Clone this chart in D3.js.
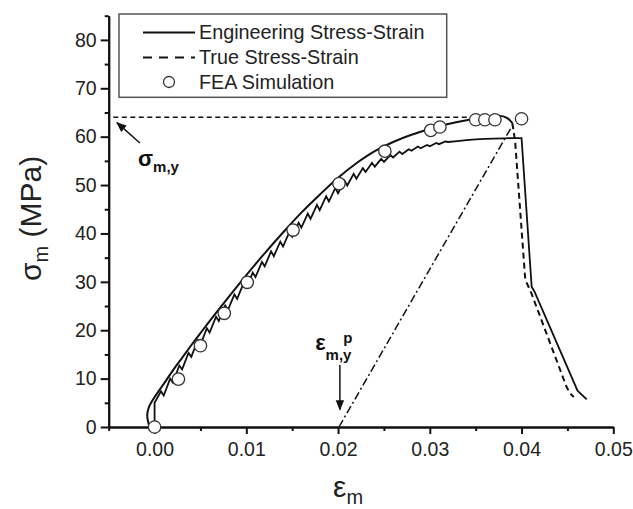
<!DOCTYPE html>
<html><head><meta charset="utf-8">
<script src="https://cdn.jsdelivr.net/npm/d3@7"></script>
<style>body{margin:0;background:#fff;} svg{display:block;font-family:"Liberation Sans",Arial,sans-serif;}</style>
</head><body><svg id="c" width="633" height="509"></svg>
<script>
// ---- data ----
const xTicks = [0.00, 0.01, 0.02, 0.03, 0.04, 0.05];
const xMinorTicks = [-0.005, 0.005, 0.015, 0.025, 0.035, 0.045];
const yTicks = [0, 10, 20, 30, 40, 50, 60, 70, 80];
const yMinorTicks = [5, 15, 25, 35, 45, 55, 65, 75, 85];

// True stress-strain: rising part (drawn solid) and post-peak drop (dashed)
const trueRise = [[-0.0006,0.3],[-0.0008,2.5],[-0.0006,4.2],[-0.0002,5.6],[0.0003,7.0],[0.001,8.9],[0.002,11.7],[0.003,14.3],[0.004,16.9],[0.005,19.4],[0.006,21.9],[0.008,26.7],[0.010,31.4],[0.012,35.9],[0.014,40.2],[0.016,44.3],[0.018,48.0],[0.020,51.5],[0.022,54.5],[0.024,57.0],[0.026,58.9],[0.028,60.4],[0.030,61.6],[0.032,62.6],[0.034,63.4],[0.036,64.0],[0.0375,64.3],[0.0384,63.9],[0.0390,62.8]];
const trueDrop = [[0.0390,62.8],[0.0393,59.0],[0.0404,30.5],[0.0411,27.5],[0.0449,8.3],[0.0453,6.9],[0.0457,6.2]];

// Engineering stress-strain (stepped)
const engCurve = [[0,0],[0,5.0],[0.0007,7.4],[0.001,6.5],[0.0017,10.0],[0.002,9.2],[0.0027,12.7],[0.003,11.9],[0.0037,15.3],[0.004,14.5],[0.0047,17.9],[0.005,17.0],[0.0057,20.4],[0.006,19.5],[0.0067,22.8],[0.007,21.9],[0.0077,25.1],[0.008,24.2],[0.0087,27.4],[0.009,26.5],[0.0097,29.7],[0.010,28.8],[0.0107,31.9],[0.011,31.0],[0.0117,34.1],[0.012,33.2],[0.0127,36.3],[0.013,35.3],[0.0137,38.3],[0.014,37.3],[0.0147,40.3],[0.015,39.3],[0.0157,42.2],[0.016,41.2],[0.0167,44.1],[0.017,43.0],[0.0177,45.9],[0.018,44.8],[0.0187,47.7],[0.019,46.6],[0.0197,49.4],[0.020,48.3],[0.0207,50.9],[0.021,49.9],[0.0217,52.3],[0.022,51.3],[0.0227,53.5],[0.023,52.7],[0.0237,54.6],[0.024,53.8],[0.0247,55.4],[0.025,54.8],[0.0257,56.2],[0.026,55.7],[0.0267,56.9],[0.027,56.4],[0.0277,57.4],[0.028,57.1],[0.0287,57.95],[0.029,57.6],[0.0297,58.3],[0.030,58.0],[0.0307,58.7],[0.031,58.45],[0.0317,59.0],[0.032,58.9],[0.033,59.1],[0.034,59.3],[0.035,59.45],[0.036,59.55],[0.037,59.6],[0.038,59.65],[0.039,59.7],[0.0400,59.7],[0.0411,29.0],[0.0414,28.0],[0.0461,7.5],[0.0471,5.7]];

// FEA simulation points
const feaPoints = [[0,0],[0.0026,9.9],[0.0050,16.8],[0.0076,23.5],[0.0101,29.9],[0.0151,40.7],[0.0201,50.3],[0.0251,57.0],[0.0301,61.3],[0.0311,62.0],[0.0350,63.5],[0.0360,63.5],[0.0371,63.5],[0.0400,63.7]];

// offset line and yield stress line
const offsetLine = [[0.0201,0],[0.0390,62.3]];
const yieldLine = [[-0.0045,64],[0.0344,64]];

// annotations (data units)
const sigmaArrow = [[-0.0016,58.7],[-0.0041,62.9]];
const sigmaLabelPos = [-0.0018,53.9];
const epsArrow = [[0.0202,12.8],[0.0202,3.6]];
const epsLabelPos = [0.0175,15.9];

const legendLabels = ["Engineering Stress-Strain","True Stress-Strain","FEA Simulation"];

// ---- drawing ----
const svg = d3.select("#c");
const x = d3.scaleLinear().domain([-0.005, 0.05]).range([108.7, 613.3]);
const y = d3.scaleLinear().domain([0, 85]).range([427, 15.7]);

const defs = svg.append("defs");
defs.append("marker").attr("id","ah").attr("viewBox","0 0 10 10").attr("refX",9).attr("refY",5)
  .attr("markerWidth",7).attr("markerHeight",7).attr("orient","auto-start-reverse")
  .append("path").attr("d","M0,1 L10,5 L0,9 z").attr("fill","#111");

const line = d3.line().x(d=>x(d[0])).y(d=>y(d[1]));
const smooth = d3.line().x(d=>x(d[0])).y(d=>y(d[1])).curve(d3.curveCatmullRom.alpha(0.5));

// axes
svg.append("g").attr("transform",`translate(${x(-0.005)},0)`)
  .call(d3.axisLeft(y).tickValues(yTicks).tickSize(8).tickSizeOuter(0).tickPadding(4).tickFormat(d3.format("d")));
svg.append("g").attr("transform",`translate(${x(-0.005)},0)`)
  .call(d3.axisLeft(y).tickValues(yMinorTicks).tickSize(4).tickSizeOuter(0).tickFormat(""));
svg.append("g").attr("transform",`translate(0,${y(0)})`)
  .call(d3.axisBottom(x).tickValues(xTicks).tickSize(7).tickSizeOuter(0).tickPadding(8).tickFormat(d3.format(".2f")));
svg.append("g").attr("transform",`translate(0,${y(0)})`)
  .call(d3.axisBottom(x).tickValues(xMinorTicks).tickSize(4).tickSizeOuter(0).tickFormat(""));
svg.selectAll(".domain, .tick line").attr("stroke","#111").attr("stroke-width",2);
svg.selectAll(".tick text").attr("font-size",19.5).attr("fill","#222").attr("font-family","Liberation Sans, Arial, sans-serif");

// axis titles
const yt = svg.append("text").attr("transform","translate(41,281) rotate(-90)").attr("fill","#222").attr("font-size",30);
yt.append("tspan").text("σ");
yt.append("tspan").attr("font-size",20).attr("dy",7).text("m");
yt.append("tspan").attr("dy",-7).text(" (MPa)");
const xt = svg.append("text").attr("x",333).attr("y",497).attr("fill","#222").attr("font-size",30);
xt.append("tspan").text("ε");
xt.append("tspan").attr("font-size",20).attr("dy",7).text("m");

// reference lines
svg.append("path").datum(yieldLine).attr("d",line).attr("fill","none").attr("stroke","#111").attr("stroke-width",1.5).attr("stroke-dasharray","5,3.5");
svg.append("path").datum(offsetLine).attr("d",line).attr("fill","none").attr("stroke","#111").attr("stroke-width",1.5).attr("stroke-dasharray","8,3,2,3");

// curves
svg.append("path").datum(engCurve).attr("d",line).attr("fill","none").attr("stroke","#111").attr("stroke-width",1.8).attr("stroke-linejoin","miter");
svg.append("path").datum(trueRise).attr("d",smooth).attr("fill","none").attr("stroke","#111").attr("stroke-width",2);
svg.append("path").datum(trueDrop).attr("d",line).attr("fill","none").attr("stroke","#111").attr("stroke-width",2).attr("stroke-dasharray","6,4");

// FEA circles
svg.append("g").selectAll("circle").data(feaPoints).join("circle")
  .attr("cx",d=>x(d[0])).attr("cy",d=>y(d[1])).attr("r",6.2)
  .attr("fill","#fff").attr("stroke","#333").attr("stroke-width",1.3);

// annotations
svg.append("path").datum(sigmaArrow).attr("d",line).attr("stroke","#111").attr("stroke-width",1.5).attr("marker-end","url(#ah)");
const sl = svg.append("text").attr("x",x(sigmaLabelPos[0])).attr("y",y(sigmaLabelPos[1])).attr("font-weight","bold").attr("fill","#111").attr("font-size",22);
sl.append("tspan").text("σ");
sl.append("tspan").attr("font-size",15).attr("dy",6).text("m,y");

svg.append("path").datum(epsArrow).attr("d",line).attr("stroke","#111").attr("stroke-width",1.5).attr("marker-end","url(#ah)");
const el = svg.append("text").attr("x",x(epsLabelPos[0])).attr("y",y(epsLabelPos[1])).attr("font-weight","bold").attr("fill","#111").attr("font-size",22);
el.append("tspan").text("ε");
el.append("tspan").attr("font-size",15).attr("dy",10).text("m,y");
svg.append("text").attr("x",x(epsLabelPos[0])+28).attr("y",y(epsLabelPos[1])-7).attr("font-weight","bold").attr("fill","#111").attr("font-size",15).text("p");

// legend
const lg = svg.append("g");
lg.append("rect").attr("x",119).attr("y",14).attr("width",327.7).attr("height",83.3).attr("fill","#fff").attr("stroke","#555").attr("stroke-width",1.5);
const rows = [32.5, 57.5, 82];
lg.append("line").attr("x1",143).attr("x2",195).attr("y1",rows[0]).attr("y2",rows[0]).attr("stroke","#111").attr("stroke-width",2);
lg.append("line").attr("x1",143).attr("x2",195).attr("y1",rows[1]).attr("y2",rows[1]).attr("stroke","#111").attr("stroke-width",2).attr("stroke-dasharray","9,7");
lg.append("circle").attr("cx",169).attr("cy",rows[2]).attr("r",5.5).attr("fill","#fff").attr("stroke","#333").attr("stroke-width",1.3);
lg.selectAll("text.lt").data(legendLabels).join("text").attr("class","lt")
  .attr("x",199).attr("y",(d,i)=>rows[i]+6.5).attr("font-size",19.8).attr("fill","#222").text(d=>d);
</script></body></html>
